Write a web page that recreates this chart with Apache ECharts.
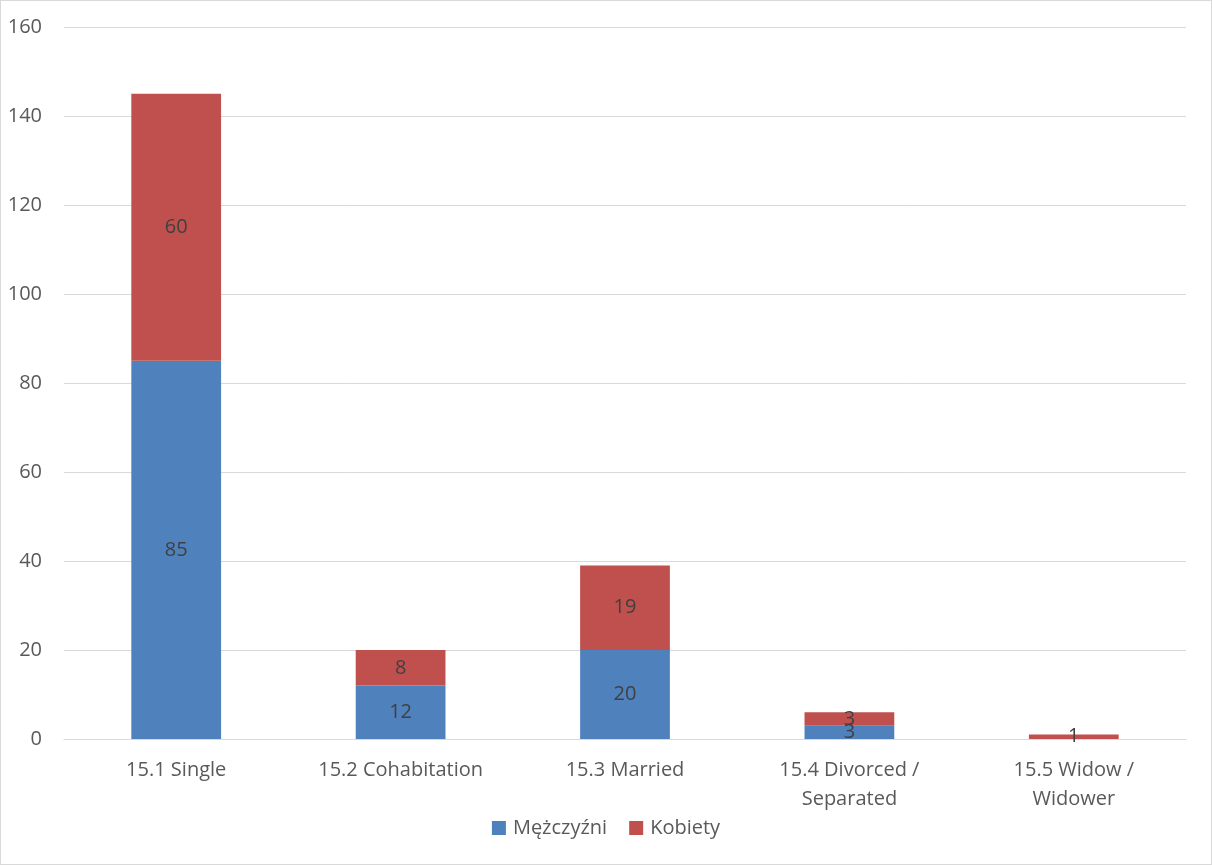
<!DOCTYPE html>
<html>
<head>
<meta charset="utf-8">
<script src="https://cdn.jsdelivr.net/npm/echarts@6/dist/echarts.min.js"></script>
<style>
  html, body { margin: 0; padding: 0; background: #fff; }
  #chart { width: 1212px; height: 865px; box-sizing: border-box; border: 1px solid #d9d9d9; }
</style>
</head>
<body>
<div id="chart"></div>
<script>
// Marital status by sex
const categories = [
  '15.1 Single',
  '15.2 Cohabitation',
  '15.3 Married',
  '15.4 Divorced /\nSeparated',
  '15.5 Widow /\nWidower'
];
const men = [85, 12, 20, 3, 0];
const women = [60, 8, 19, 3, 1];
const yTicks = { min: 0, max: 160, interval: 20 };

const font = '"Open Sans", "Liberation Sans", sans-serif';
const labelCfg = {
  show: true,
  position: 'inside',
  color: '#404040',
  fontSize: 20,
  fontFamily: font,
  formatter: p => (p.value === 0 ? '' : String(p.value))
};

const chart = echarts.init(document.getElementById('chart'), null, { renderer: 'canvas' });
chart.setOption({
  animation: false,
  textStyle: { fontFamily: font },
  grid: { left: 63, right: 25, top: 26, bottom: 125, containLabel: false },
  legend: {
    bottom: 21,
    left: 'center',
    itemWidth: 14,
    itemHeight: 14,
    itemGap: 22,
    icon: 'rect',
    textStyle: { color: '#595959', fontSize: 20, fontFamily: font, padding: [0, 0, 0, 2] },
    data: ['Mężczyźni', 'Kobiety']
  },
  xAxis: {
    type: 'category',
    data: categories,
    axisLine: { lineStyle: { color: '#d9d9d9', width: 1 } },
    axisTick: { show: false },
    axisLabel: {
      color: '#595959',
      fontSize: 20,
      fontFamily: font,
      lineHeight: 29,
      margin: 17,
      interval: 0
    }
  },
  yAxis: {
    type: 'value',
    min: yTicks.min,
    max: yTicks.max,
    interval: yTicks.interval,
    axisLine: { show: false },
    axisTick: { show: false },
    splitLine: { lineStyle: { color: '#d9d9d9', width: 1 } },
    axisLabel: { color: '#595959', fontSize: 20, fontFamily: font, margin: 22 }
  },
  series: [
    {
      name: 'Mężczyźni',
      type: 'bar',
      stack: 'total',
      barWidth: '40%',
      data: men,
      itemStyle: { color: '#4F81BD' },
      label: labelCfg
    },
    {
      name: 'Kobiety',
      type: 'bar',
      stack: 'total',
      barWidth: '40%',
      data: women,
      itemStyle: { color: '#C0504D' },
      label: labelCfg
    }
  ]
});
</script>
</body>
</html>
